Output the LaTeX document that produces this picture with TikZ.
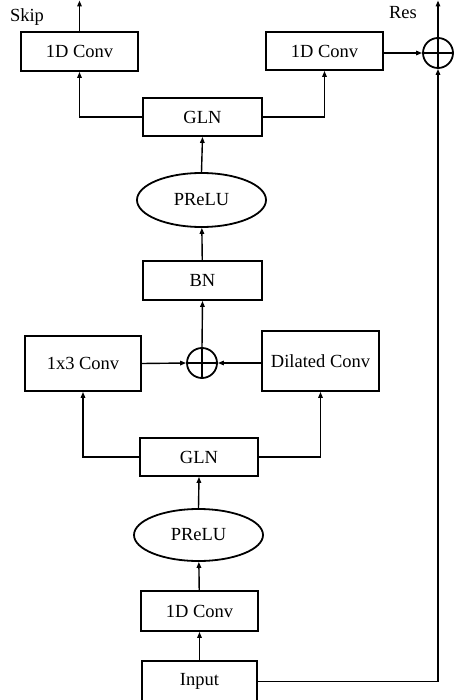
\documentclass[tikz,border=0pt]{standalone}
\usepackage{fontspec}
\setmainfont{Liberation Serif}
\usetikzlibrary{arrows.meta,shapes.geometric}
\begin{document}
\begin{tikzpicture}[x=1pt,y=-1pt,
  box/.style={draw,line width=1.8pt,rectangle,inner sep=0pt,font=\fontsize{18.5}{20}\selectfont},
  act/.style={draw,line width=1.8pt,ellipse,inner sep=0pt,font=\fontsize{18.5}{20}\selectfont},
  addop/.style={draw,line width=1.8pt,circle,minimum size=30pt,inner sep=0pt,
    path picture={\draw[line width=1.8pt]
      (path picture bounding box.north) -- (path picture bounding box.south)
      (path picture bounding box.west) -- (path picture bounding box.east);}},
  link/.style={line width=1.4pt,-{Triangle[length=6pt,width=4.5pt]}},
  lbl/.style={font=\fontsize{18.5}{20}\selectfont}]
\useasboundingbox (0,0) rectangle (464,700);

% blocks, bottom to top
\node[box,minimum width=115pt,minimum height=41pt] (input) at (199.5,681.5) {\raisebox{2pt}{Input}};
\node[box,minimum width=117pt,minimum height=40pt] (conv1) at (199.5,611) {1D Conv};
\node[act,minimum width=129pt,minimum height=52pt] (prelu1) at (198.5,535) {PReLU};
\node[box,minimum width=118pt,minimum height=38pt] (gln1) at (199,457) {GLN};
\node[box,minimum width=116pt,minimum height=55pt] (conv13) at (83,363.5) {1x3 Conv};
\node[addop] (sum1) at (202,363) {};
\node[box,minimum width=117pt,minimum height=60pt] (dil) at (320.5,361) {Dilated Conv};
\node[box,minimum width=119pt,minimum height=39pt] (bn) at (202.5,280.5) {BN};
\node[act,minimum width=129pt,minimum height=54pt] (prelu2) at (201.5,200) {PReLU};
\node[box,minimum width=119pt,minimum height=38pt] (gln2) at (202.5,117) {GLN};
\node[box,minimum width=117pt,minimum height=39pt] (skipconv) at (79.5,51.5) {1D Conv};
\node[box,minimum width=117pt,minimum height=38pt] (resconv) at (324.5,51) {1D Conv};
\node[addop] (sum2) at (438,53) {};

\coordinate (skipout) at (79.5,0.5);
\coordinate (resout) at (438,0.5);
\node[lbl] (skiplbl) at (27,17) {Skip};
\node[lbl] (reslbl) at (403,13) {Res};

% main path
\draw[link] (input) -- (conv1);
\draw[link] (conv1) -- (prelu1);
\draw[link] (prelu1.north) -- (gln1.south);
\draw[link] (gln1.west) -| (conv13.south);
\draw[link] (gln1.east) -| (dil.south);
\draw[link] (conv13.east) -- (sum1.west);
\draw[link] (dil.west |- sum1) -- (sum1.east);
\draw[link] (sum1.north) -- (bn.south);
\draw[link] (bn) -- (prelu2);
\draw[link] (prelu2.north) -- (gln2.south);
\draw[link] (gln2.west) -| (skipconv.south);
\draw[link] (gln2.east) -| (resconv.south);
\draw[link] (skipconv.north) -- (skipout);
\draw[link] (resconv.east |- sum2) -- (sum2.west);
\draw[link] (sum2.north) -- (resout);

% residual shortcut from the input
\draw[link] (input.east) -| (sum2.south);
\end{tikzpicture}
\end{document}
